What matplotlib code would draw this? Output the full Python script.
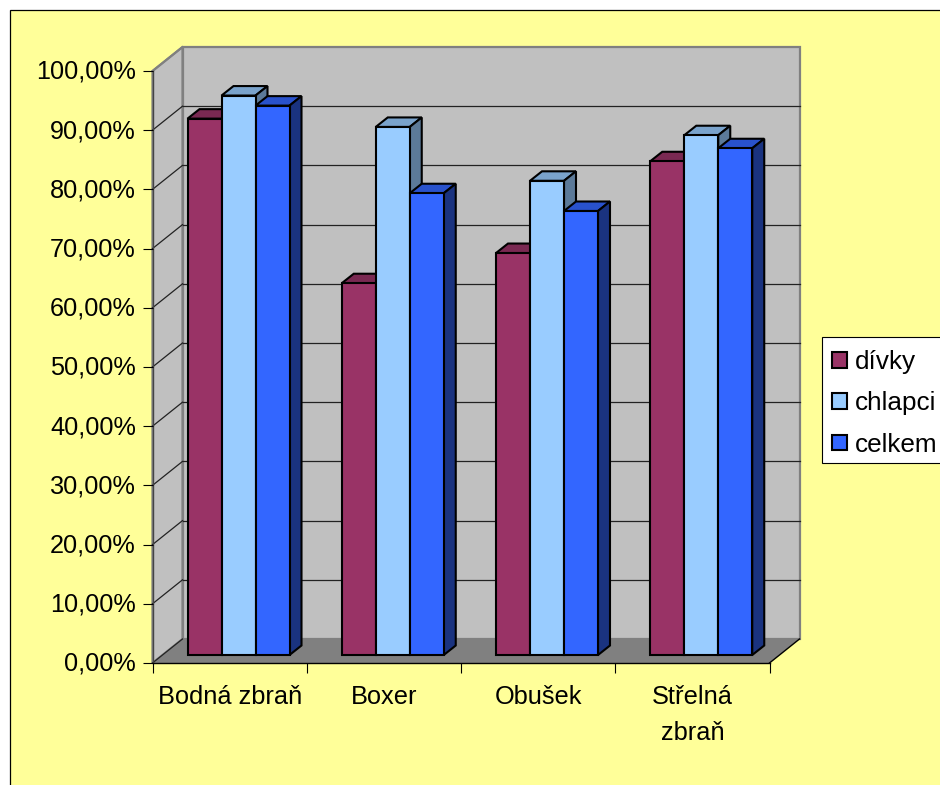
import matplotlib
matplotlib.use("Agg")
import matplotlib.pyplot as plt
from matplotlib.patches import Patch, Polygon, Rectangle
from matplotlib.transforms import ScaledTranslation

plt.rcParams['font.family'] = ['Liberation Sans', 'DejaVu Sans']

categories = ["Bodná zbraň", "Boxer", "Obušek", "Střelná\nzbraň"]
divky = [90.6, 62.8, 67.9, 83.4]
chlapci = [94.5, 89.2, 80.1, 87.8]
celkem = [92.8, 78.0, 75.0, 85.6]
series_names = ["dívky", "chlapci", "celkem"]
series_values = [divky, chlapci, celkem]
front_colors = ["#993366", "#99CCFF", "#3366FF"]
top_colors = ["#7A2952", "#7AA3CC", "#2952CC"]
side_colors = ["#4D1A33", "#5C7A99", "#1A3380"]
y_ticks = list(range(0, 101, 10))
y_labels = [f"{t},00%" for t in y_ticks]

W, H = 940, 785
fig = plt.figure(figsize=(W / 100, H / 100), dpi=100, facecolor="white")
fig.add_artist(Rectangle((10 / W, -0.05), 1.0, 1 - 9.5 / H + 0.05, transform=fig.transFigure,
                         facecolor="#FFFF99", edgecolor="black", linewidth=0.9, zorder=-5))

L, R, T, B = 152.5, 769.5, 71, 663
ax = fig.add_axes([L / W, 1 - B / H, (R - L) / W, (B - T) / H])
ax.set_xlim(0, 4)
ax.set_ylim(0, 100)
ax.patch.set_visible(False)
for s in ax.spines.values():
    s.set_visible(False)

px_x = 4 / (R - L)
px_y = 100 / (B - T)
DX, DY = 30 * px_x, 24 * px_y          # depth of the chart box
bar_w = 34 * px_x
bx, by = 12 * px_x, 9.5 * px_y          # depth of a bar
base = 8 * px_y                          # front plane of the bars
start = 35 * px_x
wall_edge = "#808080"


def poly(points, fc, ec, lw, z):
    ax.add_patch(Polygon(points, closed=True, facecolor=fc, edgecolor=ec,
                         linewidth=lw, zorder=z, clip_on=False, joinstyle="miter"))


# back wall, side wall, floor
poly([(DX, DY), (4 + DX, DY), (4 + DX, 100 + DY), (DX, 100 + DY)], "#C0C0C0", wall_edge, 1.6, 1)
poly([(0, 0), (DX, DY), (DX, 100 + DY), (0, 100)], "#C0C0C0", wall_edge, 1.6, 1.1)
poly([(0, 0), (4, 0), (4 + DX, DY), (DX, DY)], "#808080", "none", 0, 1.2)

for t in y_ticks:
    if 0 < t < 100:
        ax.plot([DX, 4 + DX], [t + DY, t + DY], color="#222222", lw=0.9, zorder=1.3, clip_on=False)
    if t < 100:
        ax.plot([0, DX], [t, t + DY], color="#222222", lw=0.9, zorder=1.3, clip_on=False)
ax.plot([0, DX], [100, 100 + DY], color=wall_edge, lw=1.4, zorder=1.3, clip_on=False)
ax.plot([0, 0], [0, 100], color="#444444", lw=1.0, zorder=1.4, clip_on=False)
ax.plot([0, 4], [0, 0], color="black", lw=1.0, zorder=1.4, clip_on=False)
ax.plot([4, 4 + DX], [0, DY], color="black", lw=1.0, zorder=1.4, clip_on=False)

# bars, painted from left to right
z = 2.0
for c in range(len(categories)):
    for s, vals in enumerate(series_values):
        x0 = c + start + s * bar_w
        x1 = x0 + bar_w
        top = vals[c] + base
        poly([(x0, top), (x1, top), (x1 + bx, top + by), (x0 + bx, top + by)],
             top_colors[s], "black", 1.5, z)
        poly([(x1, base), (x1 + bx, base + by), (x1 + bx, top + by), (x1, top)],
             side_colors[s], "black", 1.5, z + 0.01)
        ax.bar(x0, vals[c], width=bar_w, bottom=base, align="edge", color=front_colors[s],
               edgecolor="black", linewidth=1.5, zorder=z + 0.02)
        z += 0.1

ax.set_yticks(y_ticks, y_labels)
ax.set_xticks(range(5), [""] * 5)
ax.set_xticks([i + 0.5 for i in range(4)], categories, minor=True)
ax.tick_params(axis="y", length=7, width=0.8, pad=5, labelsize=18.2, color="black")
ax.tick_params(axis="x", which="major", length=7.5, width=0.8, color="black")
ax.tick_params(axis="x", which="minor", length=0, pad=16, labelsize=18.3)
up = ScaledTranslation(0, 1.5 / 100, fig.dpi_scale_trans)
for lb in ax.get_yticklabels():
    lb.set_transform(lb.get_transform() + up)
for lb in ax.get_xticklabels(minor=True):
    lb.set_linespacing(1.6)
    lb.set_multialignment("center")

# legend box, reaching past the right edge of the picture
fig.add_artist(Rectangle((822 / W, 1 - 463 / H), 130 / W, 126 / H, transform=fig.transFigure,
                         facecolor="white", edgecolor="black", linewidth=0.8, zorder=-4))
handles = [Patch(facecolor=c, edgecolor="black", linewidth=1.5) for c in front_colors]
leg = fig.legend(handles, series_names, loc="upper left",
                 bbox_to_anchor=(821.5 / W, 1 - 339 / H), bbox_transform=fig.transFigure,
                 fontsize=18.8, frameon=False, borderpad=0.42, borderaxespad=0,
                 handlelength=0.54, handleheight=0.54, handletextpad=0.3, labelspacing=0.67)

fig.savefig("out.png", dpi=100, facecolor="white")
